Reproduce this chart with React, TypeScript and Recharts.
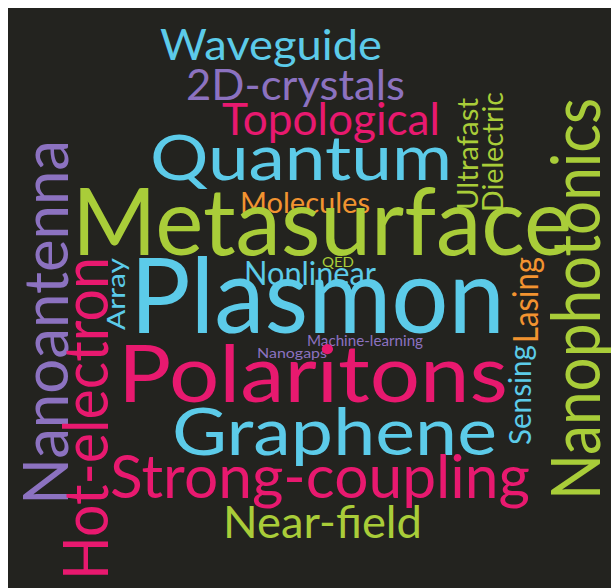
import React from "react";
import { Scatter, ScatterChart, XAxis, YAxis } from "recharts";

// horizontal words: left edge, baseline (page px), font size, drawn length
const hWords = ["Waveguide", "2D-crystals", "Topological", "Quantum", "Molecules", "Metasurface", "QED", "Nonlinear", "Plasmon", "Machine-learning", "Nanogaps", "Polaritons", "Graphene", "Strong-coupling", "Near-field"];
const hLeft = [160, 186, 222, 150, 240, 72, 322, 244, 130, 307, 257, 118, 172, 110, 223];
const hBaseline = [60, 100, 135, 180, 213, 255, 267, 285, 333, 346, 358, 402, 455, 498, 538];
const hSize = [42, 42, 44, 62, 29, 93, 14, 32, 104, 15, 14, 79, 65, 60, 44];
const hSpan = [222, 219, 218, 302, 130, 500, 32, 132, 375, 116, 70, 390, 325, 420, 199];
const hGroup = ["cyan", "purple", "pink", "cyan", "orange", "lime", "lime", "cyan", "cyan", "purple", "purple", "pink", "cyan", "pink", "lime"];

// vertical words (read bottom to top): baseline x, start y, font size, drawn length
const vWords = ["Nanoantenna", "Hot-electron", "Array", "Ultrafast", "Dielectric", "Lasing", "Sensing", "Nanophotonics"];
const vBaselineX = [68, 108, 125, 478, 503, 538, 531, 600];
const vStart = [505, 580, 330, 210, 212, 343, 445, 500];
const vSize = [62, 62, 25, 28, 28, 35, 30, 67];
const vSpan = [365, 323, 72, 112, 120, 86, 100, 402];
const vGroup = ["purple", "pink", "cyan", "lime", "lime", "orange", "cyan", "lime"];

const palette: Record<string, string> = {
  cyan: "#5ccbe9",
  purple: "#8c72c0",
  pink: "#e8196f",
  lime: "#a9cd39",
  orange: "#f29330",
};

const horizontal = hWords.map((word, i) => ({
  word,
  x: hLeft[i],
  y: hBaseline[i],
  size: hSize[i],
  span: hSpan[i],
  group: hGroup[i],
}));

const vertical = vWords.map((word, i) => ({
  word,
  x: vBaselineX[i],
  y: vStart[i],
  size: vSize[i],
  span: vSpan[i],
  group: vGroup[i],
}));

const FONT = "Lato, 'Open Sans', sans-serif";

function Word(props: any, rotate: boolean) {
  const { cx, cy, payload } = props;
  if (cx == null || cy == null) return <g />;
  return (
    <text
      x={cx}
      y={cy}
      fontFamily={FONT}
      fontSize={payload.size}
      fill={palette[payload.group]}
      textLength={payload.span}
      lengthAdjust="spacingAndGlyphs"
      textAnchor="start"
      transform={rotate ? `rotate(-90, ${cx}, ${cy})` : undefined}
    >
      {payload.word}
    </text>
  );
}

export default function App() {
  return (
    <div
      style={{
        position: "fixed",
        left: 8,
        top: 8,
        width: 603,
        height: 580,
        background: "#23231f",
      }}
    >
      <ScatterChart width={603} height={580} margin={{ top: 0, right: 0, bottom: 0, left: 0 }}>
        <XAxis type="number" dataKey="x" domain={[8, 611]} hide />
        <YAxis type="number" dataKey="y" domain={[8, 588]} reversed hide />
        <Scatter
          data={horizontal}
          isAnimationActive={false}
          shape={(p: any) => Word(p, false)}
        />
        <Scatter
          data={vertical}
          isAnimationActive={false}
          shape={(p: any) => Word(p, true)}
        />
      </ScatterChart>
    </div>
  );
}
